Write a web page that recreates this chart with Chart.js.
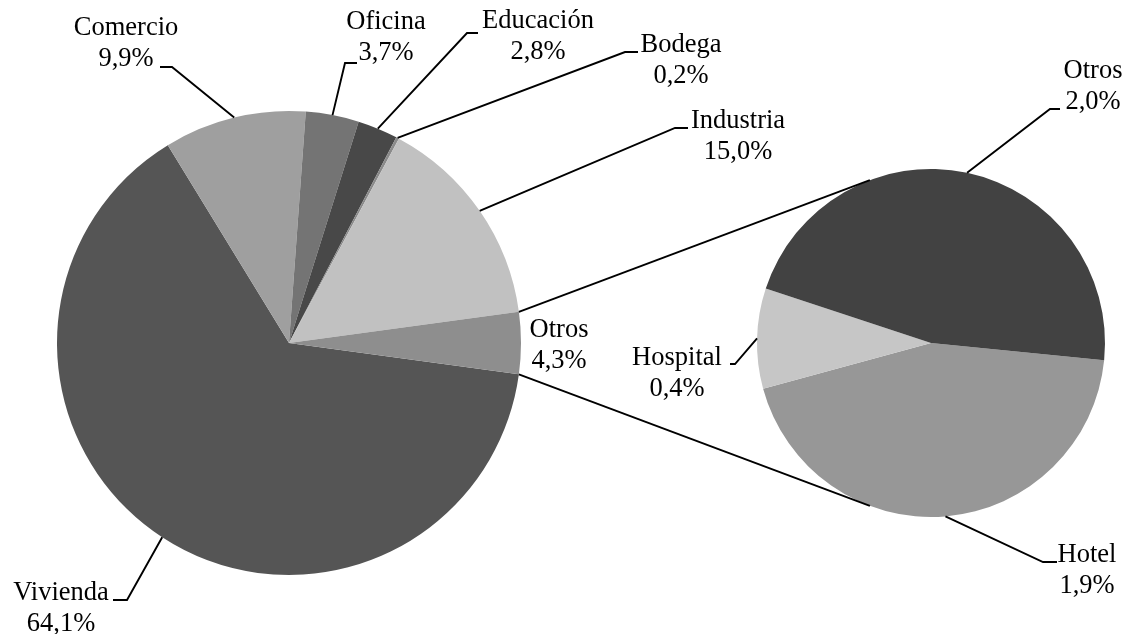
<!DOCTYPE html>
<html>
<head>
<meta charset="utf-8">
<script src="https://cdn.jsdelivr.net/npm/chart.js@4/dist/chart.umd.min.js"></script>
<style>
  body { margin: 0; background: #fff; }
  #wrap { position: relative; width: 1133px; height: 634px; }
  #wrap canvas { position: absolute; left: 0; top: 0; }
</style>
</head>
<body>
<div id="wrap">
  <canvas id="mainPie" width="1133" height="634"></canvas>
  <canvas id="subPie" width="1133" height="634"></canvas>
</div>
<script>
// data, clockwise from the "Otros" wedge
const mainLabels = ['Vivienda', 'Comercio', 'Oficina', 'Educación', 'Bodega', 'Industria', 'Otros'];
const mainValues = [64.1, 9.9, 3.7, 2.8, 0.2, 15.0, 4.3];
const mainColors = ['#555555', '#9f9f9f', '#747474', '#484848', '#8a8a8a', '#c1c1c1', '#8e8e8e'];

const subLabels = ['Hotel', 'Hospital', 'Otros'];
const subValues = [1.9, 0.4, 2.0];
const subColors = ['#979797', '#c6c6c6', '#424242'];

// where each label sits: text centre x, first baseline, leader bend (bx,by), leader end x
const mainLabelPos = [
    { x: 61,  y: 600, bx: 127, by: 600, ex: 113 },
    { x: 126, y: 35,  bx: 172, by: 67,  ex: 160 },
    { x: 386, y: 29,  bx: 345, by: 63,  ex: 357 },
    { x: 538, y: 28,  bx: 467, by: 33,  ex: 478 },
    { x: 681, y: 52,  bx: 625, by: 52,  ex: 638 },
    { x: 738, y: 128, bx: 675, by: 128, ex: 688 },
    { x: 559, y: 337 }
];
const subLabelPos = [
    { x: 1087, y: 562, bx: 1043, by: 562, ex: 1057 },
    { x: 677,  y: 365, bx: 735,  by: 364, ex: 730 },
    { x: 1093, y: 78,  bx: 1050, by: 109, ex: 1060 }
];

const LINE_GAP = 31;
const FONT = '26.5px "Liberation Serif", "Times New Roman", serif';

function fmtPct(v) {
    return v.toFixed(1).replace('.', ',') + '%';
}

function labelPlugin(layout) {
    return {
        id: 'pieLabels',
        afterDraw(chart) {
            const ctx = chart.ctx;
            const meta = chart.getDatasetMeta(0);
            const labels = chart.data.labels;
            const values = chart.data.datasets[0].data;
            ctx.save();
            ctx.font = FONT;
            ctx.fillStyle = '#000';
            ctx.strokeStyle = '#000';
            ctx.lineWidth = 1.9;
            ctx.textAlign = 'center';
            ctx.textBaseline = 'alphabetic';
            meta.data.forEach((arc, i) => {
                const p = layout[i];
                if (!p) return;
                if (p.bx !== undefined) {
                    const mid = (arc.startAngle + arc.endAngle) / 2;
                    const sx = arc.x + Math.cos(mid) * arc.outerRadius;
                    const sy = arc.y + Math.sin(mid) * arc.outerRadius;
                    ctx.beginPath();
                    ctx.moveTo(sx, sy);
                    ctx.lineTo(p.bx, p.by);
                    ctx.lineTo(p.ex, p.by);
                    ctx.stroke();
                }
                ctx.fillText(labels[i], p.x, p.y);
                ctx.fillText(fmtPct(values[i]), p.x, p.y + LINE_GAP);
            });
            ctx.restore();
        }
    };
}

function baseOptions(rotation, padding) {
    return {
        responsive: false,
        animation: false,
        devicePixelRatio: 1,
        rotation: rotation,
        layout: { padding: padding },
        plugins: { legend: { display: false }, tooltip: { enabled: false } }
    };
}

const mainChart = new Chart(document.getElementById('mainPie'), {
    type: 'pie',
    data: {
        labels: mainLabels,
        datasets: [{ data: mainValues, backgroundColor: mainColors, borderWidth: 0 }]
    },
    options: baseOptions(97.75, { left: 57, right: 612, top: 111, bottom: 59 }),
    plugins: [labelPlugin(mainLabelPos)]
});

// lines from the main "Otros" wedge to the tangents of the small pie
const connectorPlugin = {
    id: 'connectors',
    afterDraw(chart) {
        const ctx = chart.ctx;
        const otros = mainChart.getDatasetMeta(0).data[mainLabels.length - 1];
        const sub = chart.getDatasetMeta(0).data[0];
        const cx = sub.x, cy = sub.y, r = sub.outerRadius;
        const ends = [
            { a: otros.startAngle, sign: 1 },
            { a: otros.endAngle, sign: -1 }
        ];
        ctx.save();
        ctx.strokeStyle = '#000';
        ctx.lineWidth = 1.9;
        ends.forEach(e => {
            const px = otros.x + Math.cos(e.a) * otros.outerRadius;
            const py = otros.y + Math.sin(e.a) * otros.outerRadius;
            const d = Math.hypot(px - cx, py - cy);
            const base = Math.atan2(py - cy, px - cx);
            const t = base + e.sign * Math.acos(r / d);
            ctx.beginPath();
            ctx.moveTo(px, py);
            ctx.lineTo(cx + Math.cos(t) * r, cy + Math.sin(t) * r);
            ctx.stroke();
        });
        ctx.restore();
    }
};

new Chart(document.getElementById('subPie'), {
    type: 'pie',
    data: {
        labels: subLabels,
        datasets: [{ data: subValues, backgroundColor: subColors, borderWidth: 0 }]
    },
    options: baseOptions(95.7, { left: 757, right: 28, top: 169, bottom: 117 }),
    plugins: [labelPlugin(subLabelPos), connectorPlugin]
});
</script>
</body>
</html>
